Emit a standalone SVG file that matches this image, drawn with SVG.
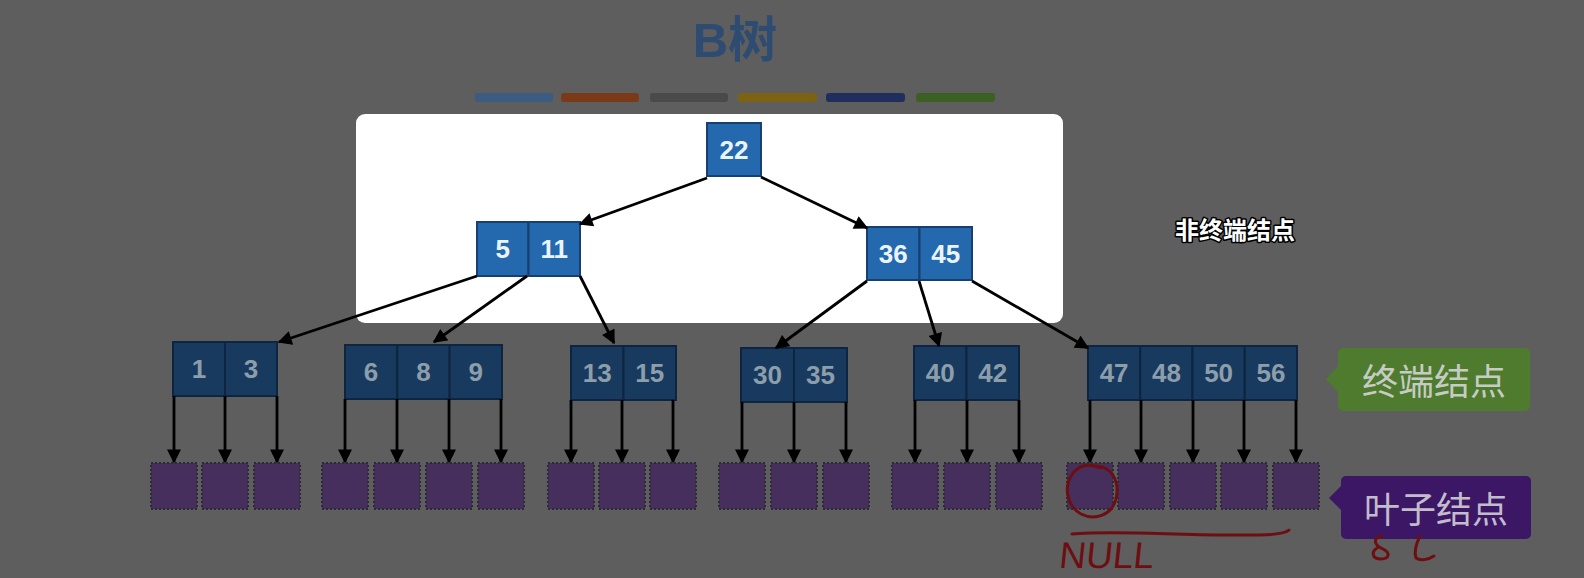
<svg xmlns="http://www.w3.org/2000/svg" width="1584" height="578" viewBox="0 0 1584 578">
<style>
.sans{font-family:"Liberation Sans","Noto Sans CJK SC",sans-serif}
.cjk{font-family:"Noto Sans CJK SC","Liberation Sans",sans-serif}
.nb{fill:#2468ad;stroke:#173f6f;stroke-width:2}
.nd{fill:#193a5f;stroke:#0d2540;stroke-width:2}
.tb{fill:#eaf4ff;font-size:26px;font-weight:bold;text-anchor:middle}
.td{fill:#8d9eab;font-size:26px;font-weight:bold;text-anchor:middle}
.leaf{fill:#462f5d;stroke:#2c2a36;stroke-width:2;stroke-dasharray:2 2}
.ar{stroke:#000;stroke-width:2.8;fill:none;marker-end:url(#ah)}
.bar{stroke:none}
.ink{fill:none;stroke:#6d0f12;stroke-width:3;stroke-linecap:round;stroke-linejoin:round}
</style>
<defs>
<marker id="ah" viewBox="0 0 10 10" refX="9" refY="5" markerWidth="5.4" markerHeight="5" orient="auto" markerUnits="strokeWidth">
<path d="M0,0 L10,5 L0,10 z" fill="#000"/>
</marker>
</defs>
<rect x="0" y="0" width="1584" height="578" fill="#5e5e5e"/>
<text class="sans" x="735" y="57" font-size="49" font-weight="bold" fill="#2e4c72" text-anchor="middle">B树</text>
<g id="bars">
<rect class="bar" x="475" y="93" width="78" height="9" rx="3" fill="#3b5b80"/>
<rect class="bar" x="561" y="93" width="78" height="9" rx="3" fill="#7a3a17"/>
<rect class="bar" x="650" y="93" width="78" height="9" rx="3" fill="#4a4a4a"/>
<rect class="bar" x="738" y="93" width="79" height="9" rx="3" fill="#7b6313"/>
<rect class="bar" x="826" y="93" width="79" height="9" rx="3" fill="#1f2e5c"/>
<rect class="bar" x="916" y="93" width="79" height="9" rx="3" fill="#3c5f24"/>
</g>
<rect id="panel" x="356" y="114" width="707" height="209" rx="9" fill="#ffffff"/>

<g id="n22">
<rect class="nb" x="707" y="123" width="54" height="53"/>
<text class="sans tb" x="734" y="159">22</text>
</g>
<g id="n5_11">
<rect class="nb" x="477" y="222" width="51.5" height="54"/>
<rect class="nb" x="528.5" y="222" width="51.5" height="54"/>
<text class="sans tb" x="502.7" y="258">5</text>
<text class="sans tb" x="554.2" y="258">11</text>
</g>
<g id="n36_45">
<rect class="nb" x="867" y="227" width="52.5" height="53"/>
<rect class="nb" x="919.5" y="227" width="52.5" height="53"/>
<text class="sans tb" x="893.2" y="263">36</text>
<text class="sans tb" x="945.7" y="263">45</text>
</g>

<g id="n1_3">
<rect class="nd" x="173" y="342" width="52" height="54"/>
<rect class="nd" x="225" y="342" width="52" height="54"/>
<text class="sans td" x="199" y="378">1</text>
<text class="sans td" x="251" y="378">3</text>
</g>
<g id="n6_8_9">
<rect class="nd" x="345" y="345" width="52.3" height="54"/>
<rect class="nd" x="397.3" y="345" width="52.3" height="54"/>
<rect class="nd" x="449.6" y="345" width="52.4" height="54"/>
<text class="sans td" x="371" y="381">6</text>
<text class="sans td" x="423.5" y="381">8</text>
<text class="sans td" x="475.8" y="381">9</text>
</g>
<g id="n13_15">
<rect class="nd" x="571" y="346" width="52.5" height="54"/>
<rect class="nd" x="623.5" y="346" width="52.5" height="54"/>
<text class="sans td" x="597.2" y="382">13</text>
<text class="sans td" x="649.7" y="382">15</text>
</g>
<g id="n30_35">
<rect class="nd" x="741" y="348" width="53" height="54"/>
<rect class="nd" x="794" y="348" width="53" height="54"/>
<text class="sans td" x="767.5" y="384">30</text>
<text class="sans td" x="820.5" y="384">35</text>
</g>
<g id="n40_42">
<rect class="nd" x="914" y="346" width="52.5" height="54"/>
<rect class="nd" x="966.5" y="346" width="52.5" height="54"/>
<text class="sans td" x="940.2" y="382">40</text>
<text class="sans td" x="992.7" y="382">42</text>
</g>
<g id="n47_48_50_56">
<rect class="nd" x="1088" y="346" width="52.25" height="54"/>
<rect class="nd" x="1140.25" y="346" width="52.25" height="54"/>
<rect class="nd" x="1192.5" y="346" width="52.25" height="54"/>
<rect class="nd" x="1244.75" y="346" width="52.25" height="54"/>
<text class="sans td" x="1114.1" y="382">47</text>
<text class="sans td" x="1166.4" y="382">48</text>
<text class="sans td" x="1218.6" y="382">50</text>
<text class="sans td" x="1270.9" y="382">56</text>
</g>

<g id="leaves">
<rect class="leaf" x="151" y="463" width="46" height="46"/>
<rect class="leaf" x="202" y="463" width="46" height="46"/>
<rect class="leaf" x="254" y="463" width="46" height="46"/>
<rect class="leaf" x="322" y="463" width="46" height="46"/>
<rect class="leaf" x="374" y="463" width="46" height="46"/>
<rect class="leaf" x="426" y="463" width="46" height="46"/>
<rect class="leaf" x="478" y="463" width="46" height="46"/>
<rect class="leaf" x="548" y="463" width="46" height="46"/>
<rect class="leaf" x="599" y="463" width="46" height="46"/>
<rect class="leaf" x="650" y="463" width="46" height="46"/>
<rect class="leaf" x="719" y="463" width="46" height="46"/>
<rect class="leaf" x="771" y="463" width="46" height="46"/>
<rect class="leaf" x="823" y="463" width="46" height="46"/>
<rect class="leaf" x="892" y="463" width="46" height="46"/>
<rect class="leaf" x="944" y="463" width="46" height="46"/>
<rect class="leaf" x="996" y="463" width="46" height="46"/>
<rect class="leaf" x="1067" y="463" width="46" height="46"/>
<rect class="leaf" x="1118" y="463" width="46" height="46"/>
<rect class="leaf" x="1170" y="463" width="46" height="46"/>
<rect class="leaf" x="1221" y="463" width="46" height="46"/>
<rect class="leaf" x="1273" y="463" width="46" height="46"/>
</g>

<g id="connectors">
<line class="ar" x1="707" y1="178" x2="580" y2="224"/>
<line class="ar" x1="761" y1="177" x2="867" y2="228"/>
<line class="ar" x1="477" y1="276" x2="279" y2="342"/>
<line class="ar" x1="527" y1="276" x2="434" y2="342"/>
<line class="ar" x1="580" y1="276" x2="614" y2="343"/>
<line class="ar" x1="867" y1="281" x2="776" y2="348"/>
<line class="ar" x1="919" y1="281" x2="939" y2="346"/>
<line class="ar" x1="972" y1="281" x2="1088" y2="348"/>
<line class="ar" x1="174" y1="396" x2="174" y2="462"/>
<line class="ar" x1="225" y1="396" x2="225" y2="462"/>
<line class="ar" x1="277" y1="396" x2="277" y2="462"/>
<line class="ar" x1="345" y1="399" x2="345" y2="462"/>
<line class="ar" x1="397" y1="399" x2="397" y2="462"/>
<line class="ar" x1="449" y1="399" x2="449" y2="462"/>
<line class="ar" x1="501" y1="399" x2="501" y2="462"/>
<line class="ar" x1="571" y1="400" x2="571" y2="462"/>
<line class="ar" x1="622" y1="400" x2="622" y2="462"/>
<line class="ar" x1="673" y1="400" x2="673" y2="462"/>
<line class="ar" x1="742" y1="402" x2="742" y2="462"/>
<line class="ar" x1="794" y1="402" x2="794" y2="462"/>
<line class="ar" x1="846" y1="402" x2="846" y2="462"/>
<line class="ar" x1="915" y1="400" x2="915" y2="462"/>
<line class="ar" x1="967" y1="400" x2="967" y2="462"/>
<line class="ar" x1="1019" y1="400" x2="1019" y2="462"/>
<line class="ar" x1="1090" y1="400" x2="1090" y2="462"/>
<line class="ar" x1="1141" y1="400" x2="1141" y2="462"/>
<line class="ar" x1="1193" y1="400" x2="1193" y2="462"/>
<line class="ar" x1="1244" y1="400" x2="1244" y2="462"/>
<line class="ar" x1="1296" y1="400" x2="1296" y2="462"/>
</g>

<text class="cjk" x="1235" y="239" font-size="24" font-weight="bold" fill="#ffffff" stroke="#000" stroke-width="3" paint-order="stroke" stroke-linejoin="round" text-anchor="middle">非终端结点</text>

<g id="label-terminal">
<path d="M1338,366 L1326,379 L1338,392 z" fill="#4e7b2e"/>
<rect x="1338" y="348" width="192" height="63" rx="5" fill="#4e7b2e"/>
<text class="cjk" x="1434" y="395" font-size="36" fill="#c6ccc3" text-anchor="middle">终端结点</text>
</g>
<g id="label-leaf">
<path d="M1341,486 L1329,498 L1341,510 z" fill="#3b1766"/>
<rect x="1341" y="476" width="190" height="63" rx="5" fill="#3b1766"/>
<text class="cjk" x="1436" y="523" font-size="36" fill="#c3bccb" text-anchor="middle">叶子结点</text>
</g>

<g id="annotation">
<path class="ink" d="M1094,466 C1112,465 1120,482 1116,499 C1112,515 1095,521 1081,514 C1067,506 1064,488 1071,476 C1077,466 1088,462 1100,468"/>
<path class="ink" d="M1072,534 C1120,530 1180,536 1240,535 C1265,535 1284,535 1289,530"/>
<text class="sans" x="1058" y="568" font-size="37" fill="#6d0f12" transform="skewX(-6) translate(60,0)">NULL</text>
<path class="ink" d="M1382,536 C1372,538 1374,545 1383,549 C1391,553 1389,559 1381,559 C1372,559 1371,552 1377,548"/>
<path class="ink" d="M1420,536 C1416,544 1414,552 1416,558 C1420,561 1428,560 1434,556"/>
</g>
</svg>
